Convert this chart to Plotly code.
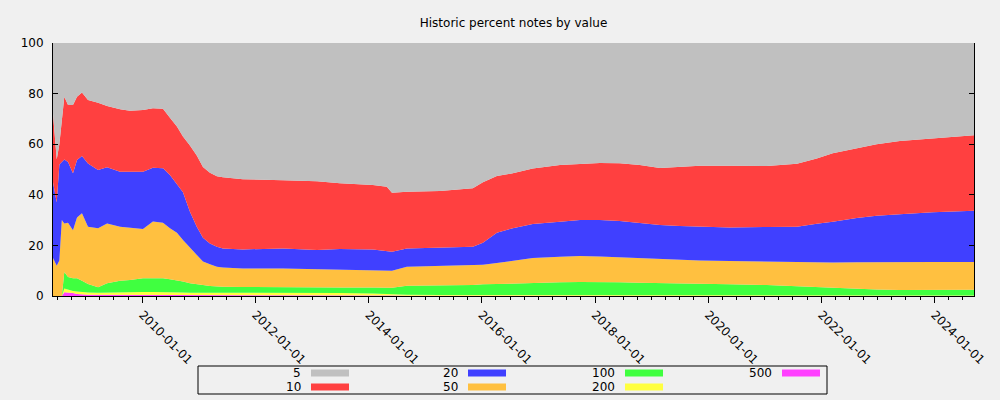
import plotly.graph_objects as go

# dates of the samples
dates = [
    "2008-06-03", "2008-06-27", "2008-07-14", "2008-07-30", "2008-08-15",
    "2008-09-08", "2008-10-10", "2008-11-05", "2008-12-07", "2009-01-15",
    "2009-03-21", "2009-05-18", "2009-08-10", "2009-10-13", "2010-01-05",
    "2010-03-10", "2010-05-14", "2010-06-28", "2010-08-12", "2010-09-20",
    "2010-11-04", "2010-12-18", "2011-01-27", "2011-03-13", "2011-04-27",
    "2011-06-05", "2011-10-12", "2012-06-27", "2013-02-01", "2013-06-29",
    "2014-01-28", "2014-04-28", "2014-05-31", "2014-09-04", "2015-04-05",
    "2015-11-04", "2016-01-08", "2016-04-07", "2016-07-19", "2016-11-25",
    "2017-05-19", "2017-09-25", "2018-02-01", "2018-06-10", "2018-10-17",
    "2019-02-24", "2019-07-02", "2019-11-08", "2020-05-20", "2021-01-14",
    "2021-07-27", "2021-12-02", "2022-03-15", "2022-08-17", "2022-12-23",
    "2023-05-22", "2023-12-20", "2024-09-12",
]

# percent of notes per value
pct_500 = [0, 0, 0, 0, 1.5, 1.5, 1.2, 0.8, 0.6, 0.5,
           0.5, 0.5, 0.5, 0.5, 0.5, 0.5, 0.5, 0.5, 0.4, 0.4,
           0.4, 0.3, 0.3, 0.3, 0.3, 0.3, 0.3, 0.3, 0.3, 0.3,
           0.3, 0.2, 0.2, 0.1, 0.1, 0.1, 0.2, 0.2, 0.2, 0.2,
           0.2, 0.2, 0.2, 0.2, 0.2, 0.2, 0.2, 0.2, 0.2, 0.2,
           0.1, 0, 0, 0, 0, 0, 0, 0]
pct_200 = [0, 0, 0, 0, 1.5, 1.0, 0.8, 1.0, 1.0, 0.9,
           0.8, 0.9, 1.0, 1.0, 1.1, 1.1, 1.1, 1.0, 1.0, 1.0,
           0.9, 1.0, 1.0, 1.0, 1.0, 1.0, 1.0, 1.0, 1.0, 0.9,
           0.7, 0.6, 0.5, 0.4, 0.3, 0.3, 0.3, 0.3, 0.3, 0.3,
           0.3, 0.3, 0.3, 0.3, 0.3, 0.3, 0.3, 0.3, 0.3, 0.3,
           0.3, 0.3, 0.3, 0.3, 0.2, 0.2, 0.2, 0.2]
pct_100 = [0, 0, 0, 0, 6.5, 5.0, 5.0, 5.2, 4.4, 3.3,
           2.2, 3.6, 4.5, 4.8, 5.4, 5.4, 5.4, 5.1, 4.8, 4.3,
           3.7, 3.2, 3.0, 2.7, 2.5, 2.4, 2.3, 2.1, 2.1, 2.2,
           2.4, 2.5, 2.6, 3.6, 3.7, 3.9, 4.1, 4.3, 4.5, 4.8,
           4.9, 5.0, 5.0, 4.9, 4.7, 4.6, 4.6, 4.5, 4.1, 3.8,
           3.4, 3.2, 3.0, 2.6, 2.4, 2.2, 2.2, 2.3]
pct_50 = [15, 12, 14, 30, 19.2, 21.5, 19.0, 24.0, 26.7, 22.7,
          23.3, 23.7, 21.4, 20.7, 19.5, 22.4, 22.0, 20.2, 18.8, 16.4,
          14.0, 11.5, 9.3, 8.5, 7.8, 7.6, 7.3, 7.5, 7.2, 7.0,
          7.0, 6.9, 6.7, 7.5, 7.8, 7.9, 7.8, 8.2, 8.8, 9.7,
          10.1, 10.3, 10.1, 9.9, 9.8, 9.5, 9.1, 9.0, 9.2, 9.3,
          9.7, 9.7, 9.9, 10.4, 10.8, 11.0, 11.0, 10.9]
pct_20 = [30, 25, 38, 23, 25.3, 24.0, 22.5, 22.8, 22.6, 25.0,
          23.0, 22.2, 21.7, 22.1, 22.6, 21.3, 21.5, 21.0, 19.0, 18.9,
          14.3, 11.4, 9.4, 8.3, 7.9, 7.5, 7.5, 7.9, 7.6, 8.2,
          8.0, 7.4, 7.5, 7.2, 7.3, 7.3, 8.6, 12.0, 13.0, 13.5,
          13.8, 14.2, 14.4, 14.3, 13.9, 13.5, 13.5, 13.4, 13.3, 13.7,
          13.9, 15.4, 16.1, 17.5, 18.3, 18.9, 19.7, 20.3]
pct_10 = [27, 17, 8, 17, 24.8, 22.5, 27.0, 25.0, 25.1, 25.1,
          26.6, 24.2, 24.7, 24.1, 24.4, 23.5, 23.5, 22.7, 23.0, 22.0,
          26.2, 28.1, 28.0, 27.9, 27.8, 28.1, 27.7, 27.0, 27.2, 26.0,
          25.5, 25.6, 23.3, 22.4, 22.3, 23.1, 24.0, 22.4, 21.7, 21.9,
          22.5, 22.2, 22.6, 22.9, 22.9, 22.5, 23.3, 24.1, 24.4, 24.1,
          24.9, 25.7, 27.1, 27.6, 28.3, 29.0, 29.2, 29.8]
pct_5 = [28, 46, 40, 30, 21.2, 24.5, 24.5, 21.2, 19.6, 22.5,
         23.6, 24.9, 26.2, 26.8, 26.5, 25.8, 26.0, 29.5, 33.0, 37.0,
         40.5, 44.5, 49.0, 51.3, 52.7, 53.1, 53.9, 54.2, 54.6, 55.4,
         56.1, 56.8, 59.2, 58.8, 58.5, 57.4, 55.0, 52.6, 51.5, 49.6,
         48.2, 47.8, 47.4, 47.5, 48.2, 49.4, 49.0, 48.5, 48.5, 48.6,
         47.7, 45.7, 43.6, 41.6, 40.0, 38.7, 37.7, 36.5]

values = ["5", "10", "20", "50", "100", "200", "500"]
series = [pct_5, pct_10, pct_20, pct_50, pct_100, pct_200, pct_500]
colors = ["#c0c0c0", "#ff4040", "#4040ff", "#ffc040", "#40ff40", "#ffff40", "#ff40ff"]

fig = go.Figure()
# smallest share goes at the bottom of the stack
for name, ys, col in reversed(list(zip(values, series, colors))):
    fig.add_trace(go.Scatter(x=dates, y=ys, name=name, mode="lines",
                             stackgroup="one", line=dict(width=0, color=col),
                             fillcolor=col, showlegend=False))

# plot area in pixels
L, R, T, B = 53, 974, 43, 296


def px(x):
    return (x - L) / (R - L)


def py(y):
    return (B - y) / (B - T)


# gnuplot style key below the chart, filled column by column
shapes = [dict(type="rect", xref="paper", yref="paper",
               x0=px(198), x1=px(827), y0=py(394), y1=py(366),
               line=dict(color="black", width=1), fillcolor="rgba(0,0,0,0)")]
annotations = []
for i, (name, col) in enumerate(zip(values, colors)):
    c, r = i // 2, i % 2
    text_right = 303 + 157 * c
    yc = 373 + 14 * r
    annotations.append(dict(text=name, xref="paper", yref="paper",
                            x=px(text_right), y=py(yc), xanchor="right",
                            yanchor="middle", showarrow=False,
                            font=dict(size=12, color="black")))
    shapes.append(dict(type="rect", xref="paper", yref="paper",
                       x0=px(text_right + 8), x1=px(text_right + 46),
                       y0=py(yc + 3.5), y1=py(yc - 3.5),
                       line=dict(width=0), fillcolor=col))

fig.update_layout(
    width=1000, height=400,
    margin=dict(l=L, r=1000 - R, t=T, b=400 - B),
    paper_bgcolor="#f0f0f0", plot_bgcolor="#f0f0f0",
    font=dict(family="DejaVu Sans", size=12, color="black"),
    title=dict(text="Historic percent notes by value", x=0.5, xref="paper",
               y=1 - 23 / 400, yanchor="middle", font=dict(size=12)),
    shapes=shapes, annotations=annotations,
    xaxis=dict(type="date", range=["2008-06-03", "2024-09-12"],
               tick0="2010-01-01", dtick="M24", tickformat="%Y-%m-%d",
               tickangle=45, ticks="outside", ticklen=6, tickcolor="black",
               showline=True, linecolor="black", linewidth=1,
               showgrid=False, zeroline=False,
               minor=dict(dtick="M3", tick0="2010-01-01", ticks="outside",
                          ticklen=3, tickcolor="black", showgrid=False)),
    yaxis=dict(range=[0, 100], tick0=0, dtick=20, ticks="inside",
               ticklen=5, tickcolor="black", showline=True,
               linecolor="black", linewidth=1, mirror="allticks",
               showgrid=False, zeroline=False, ticklabelstandoff=6),
)

# drop the page's default body margin so the figure sits at the corner
fig.write_html("out.html", config={"displayModeBar": False},
               post_script="document.body.style.margin='0';"
                           "document.body.style.background='#f0f0f0';")
